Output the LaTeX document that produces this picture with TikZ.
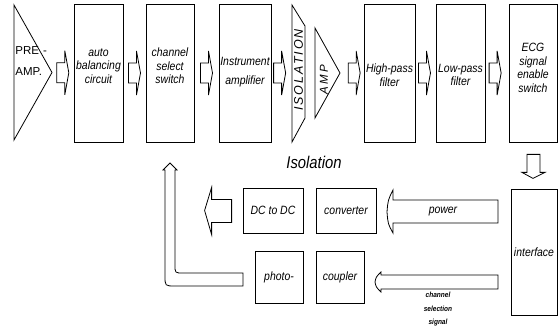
\documentclass[tikz,border=0pt]{standalone}
\usepackage{fontspec}
\setmainfont{Liberation Sans}
\newfontfamily\condfont[FakeStretch=0.87]{Liberation Sans}
\usetikzlibrary{calc}
\begin{document}
\begin{tikzpicture}[x=1pt,y=-1pt,line width=0.8pt,
  blk/.style={draw,inner sep=0pt},
  lbl/.style={font=\condfont\itshape\fontsize{12}{13.5}\selectfont,align=center,inner sep=0pt},
  tiny/.style={font=\condfont\bfseries\itshape\fontsize{7.5}{13.5}\selectfont,align=center,inner sep=0pt},
  rarrow/.pic={\draw (-6,-10) -- (2,-10) -- (2,-22) -- (6,0) -- (2,22) -- (2,10) -- (-6,10) -- cycle;}
]
\useasboundingbox (0,0) rectangle (558,328);

% ---------- top row ----------
\draw (14,5) -- (52,72.5) -- (14,140) -- cycle;
\coordinate (pre) at (52,72.5);
\node[anchor=west,inner sep=0pt,font=\fontsize{11.5}{13}\selectfont] (pret) at (15,51) {PRE\hspace{4pt}-};
\node[anchor=west,inner sep=0pt,font=\fontsize{11.5}{13}\selectfont] (ampt) at (15,72) {AMP.};

\node[blk,minimum width=49pt,minimum height=138pt] (auto) at (98.5,73) {};
\node[lbl] (autot) at (98.5,66) {auto\\balancing\\circuit};

\node[blk,minimum width=48pt,minimum height=138pt] (chan) at (170,73) {};
\node[lbl] (chant) at (170,66) {channel\\select\\switch};

\node[blk,minimum width=52pt,minimum height=138pt] (inst) at (245,73) {};
\node[lbl] (instt) at (245,72) {Instrument\\[5pt]amplifier};

\draw (292,5) -- (305,26) -- (305,118) -- (292,142) -- cycle;
\coordinate (iso) at (292,73);
\node[rotate=90,inner sep=0pt,font=\itshape\fontsize{12.5}{13}\selectfont\addfontfeature{LetterSpace=16}] (isot) at (298.5,70) {ISOLATION};

\draw (315,28) -- (340,73) -- (315,118) -- cycle;
\coordinate (ampin) at (315,73);
\coordinate (ampout) at (340,73);
\node[rotate=90,inner sep=0pt,font=\itshape\fontsize{11.5}{13}\selectfont\addfontfeature{LetterSpace=22}] (ampl) at (324,80) {AMP};

\node[blk,minimum width=51pt,minimum height=138pt] (hp) at (389.5,73) {};
\node[lbl] (hpt) at (389.5,75) {High-pass\\filter};

\node[blk,minimum width=49pt,minimum height=138pt] (lp) at (460.5,73) {};
\node[lbl] (lpt) at (460.5,75) {Low-pass\\filter};

\node[blk,minimum width=48pt,minimum height=138pt] (ecg) at (533,73) {};
\node[lbl] (ecgt) at (533,68) {ECG\\signal\\enable\\switch};

% hollow arrows of the top row
\pic at ($(pre)!0.5!(auto.west)$) {rarrow};
\pic at ($(auto.east)!0.5!(chan.west)$) {rarrow};
\pic at ($(chan.east)!0.5!(inst.west)$) {rarrow};
\pic at ($(inst.east)!0.4!(iso)$) {rarrow};
\pic at ($(ampout)!0.6!(hp.west)$) {rarrow};
\pic at ($(hp.east)!0.45!(lp.west)$) {rarrow};
\pic at ($(lp.east)!0.42!(ecg.west)$) {rarrow};

% ---------- bottom part ----------
\node[inner sep=0pt,font=\condfont\itshape\fontsize{17}{17}\selectfont] (isolab) at (314,162) {Isolation};

\node[blk,lbl,minimum width=60pt,minimum height=45pt] (dc) at (273,210.5) {DC to DC};
\node[blk,lbl,minimum width=60pt,minimum height=45pt] (conv) at (346,210.5) {converter};
\node[blk,lbl,minimum width=48pt,minimum height=52pt] (photo) at (279,277) {photo-};
\node[blk,lbl,minimum width=48pt,minimum height=52pt] (coup) at (340,277) {coupler};
\node[blk,lbl,minimum width=46pt,minimum height=126pt] (intf) at (534,252) {interface};

% down arrow ECG -> interface
\draw ($(ecg.south)+(-6,12)$) -- ($(ecg.south)+(7,12)$) -- ($(ecg.south)+(7,30)$)
  -- ($(ecg.south)+(12,30)$) -- ($(ecg.south)+(0,36)$) -- ($(ecg.south)+(-11,30)$)
  -- ($(ecg.south)+(-6,30)$) -- cycle;

% power arrow interface -> converter
\draw (498,200) -- (393,200) -- (393,190) .. controls (388,200) .. (387,212)
  .. controls (388,224) .. (393,233) -- (393,223) -- (498,223) -- cycle;
\node[lbl] (pwt) at (443,212) {power};

% channel selection arrow interface -> coupler
\draw (498,275) -- (381,275) -- (381,272) .. controls (376,277) .. (375,282)
  .. controls (376,287) .. (381,292) -- (381,289) -- (498,289) -- cycle;
\node[tiny] (cst) at (438,309.5) {channel\\selection\\signal};

% arrow out of DC to DC
\draw ($(dc.west)+(-11,-11)$) -- ($(dc.west)+(-31,-11)$) -- ($(dc.west)+(-31,-23)$)
  -- ($(dc.west)+(-38,0)$) -- ($(dc.west)+(-31,24)$) -- ($(dc.west)+(-31,12)$)
  -- ($(dc.west)+(-11,12)$) -- cycle;

% L-shaped arrow from photo-coupler up
\draw (243,273) -- (183,273) .. controls (175,273) .. (175,265) -- (175,170)
  -- (177,170) -- (170,163) -- (163,170) -- (165,170) -- (165,276)
  .. controls (165,286) .. (175,286) -- (243,286) -- cycle;
\end{tikzpicture}
\end{document}
